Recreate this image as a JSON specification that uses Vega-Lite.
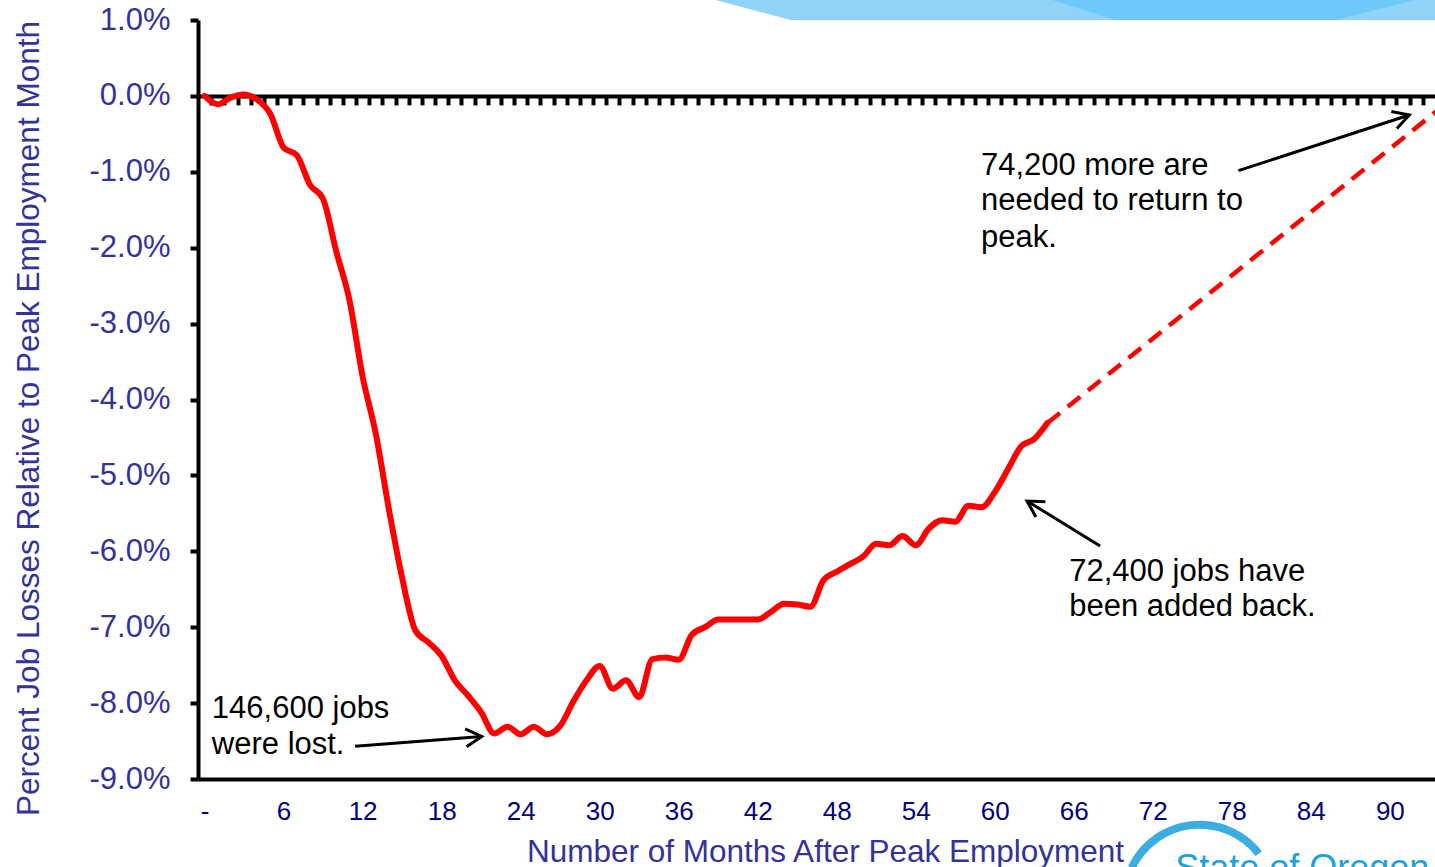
{
  "$schema": "https://vega.github.io/schema/vega-lite/v6.json",
  "autosize": {"type": "none"},
  "width": 1237,
  "height": 759,
  "padding": {"left": 198, "top": 20, "right": 0, "bottom": 88},
  "background": "white",
  "config": {
    "view": {"stroke": null},
    "font": "Liberation Sans",
    "text": {"font": "Liberation Sans"}
  },
  "datasets": {
    "jobs": [
      {"month": 0, "pct": 0.0}, {"month": 1, "pct": -0.11}, {"month": 2, "pct": -0.02}, {"month": 3, "pct": 0.02},
      {"month": 4, "pct": -0.05}, {"month": 5, "pct": -0.24}, {"month": 6, "pct": -0.68}, {"month": 7, "pct": -0.78},
      {"month": 8, "pct": -1.17}, {"month": 9, "pct": -1.36}, {"month": 10, "pct": -2.05}, {"month": 11, "pct": -2.69},
      {"month": 12, "pct": -3.7}, {"month": 13, "pct": -4.45}, {"month": 14, "pct": -5.45}, {"month": 15, "pct": -6.35},
      {"month": 16, "pct": -7.04}, {"month": 17, "pct": -7.2}, {"month": 18, "pct": -7.38}, {"month": 19, "pct": -7.7},
      {"month": 20, "pct": -7.9}, {"month": 21, "pct": -8.12}, {"month": 22, "pct": -8.4}, {"month": 23, "pct": -8.31},
      {"month": 24, "pct": -8.41}, {"month": 25, "pct": -8.31}, {"month": 26, "pct": -8.41}, {"month": 27, "pct": -8.3},
      {"month": 28, "pct": -7.98}, {"month": 29, "pct": -7.7}, {"month": 30, "pct": -7.51}, {"month": 31, "pct": -7.81},
      {"month": 32, "pct": -7.7}, {"month": 33, "pct": -7.92}, {"month": 34, "pct": -7.42}, {"month": 35, "pct": -7.4},
      {"month": 36, "pct": -7.43}, {"month": 37, "pct": -7.1}, {"month": 38, "pct": -7.0}, {"month": 39, "pct": -6.9},
      {"month": 40, "pct": -6.9}, {"month": 41, "pct": -6.9}, {"month": 42, "pct": -6.9}, {"month": 43, "pct": -6.8},
      {"month": 44, "pct": -6.69}, {"month": 45, "pct": -6.7}, {"month": 46, "pct": -6.73}, {"month": 47, "pct": -6.38},
      {"month": 48, "pct": -6.27}, {"month": 49, "pct": -6.17}, {"month": 50, "pct": -6.07}, {"month": 51, "pct": -5.9},
      {"month": 52, "pct": -5.92}, {"month": 53, "pct": -5.8}, {"month": 54, "pct": -5.92}, {"month": 55, "pct": -5.7},
      {"month": 56, "pct": -5.59}, {"month": 57, "pct": -5.61}, {"month": 58, "pct": -5.4}, {"month": 59, "pct": -5.42},
      {"month": 60, "pct": -5.22}, {"month": 61, "pct": -4.92}, {"month": 62, "pct": -4.62}, {"month": 63, "pct": -4.52},
      {"month": 64, "pct": -4.31}
    ],
    "projection": [
      {"month": 64, "pct": -4.31},
      {"month": 95, "pct": 0.0}
    ],
    "notes": [
      {"line": "146,600 jobs", "nx": 0.55, "ny": -8.08},
      {"line": "were lost.", "nx": 0.55, "ny": -8.55},
      {"line": "74,200 more are", "nx": 58.95, "ny": -0.92},
      {"line": "needed to return to", "nx": 58.95, "ny": -1.385},
      {"line": "peak.", "nx": 58.95, "ny": -1.87},
      {"line": "72,400 jobs have", "nx": 65.65, "ny": -6.27},
      {"line": "been added back.", "nx": 65.65, "ny": -6.73}
    ],
    "arrows": [
      {"id": "lost", "ax": 11.43, "ay": -8.57, "bx": 21.05, "by": -8.44},
      {"id": "needed", "ax": 78.5, "ay": -0.985, "bx": 91.48, "by": -0.252},
      {"id": "added", "ax": 68.0, "ay": -5.93, "bx": 62.45, "by": -5.337}
    ],
    "bannerLight": [
      {"bx": 38.67, "top": 1.27, "bottom": 1.27},
      {"bx": 44.5, "top": 1.27, "bottom": 1.0},
      {"bx": 93.43, "top": 1.27, "bottom": 1.0}
    ],
    "bannerDark": [
      {"bx": 64.25, "top": 1.27, "bottom": 1.27},
      {"bx": 69.2, "top": 1.27, "bottom": 1.0},
      {"bx": 85.85, "top": 1.27, "bottom": 1.0},
      {"bx": 92.05, "top": 1.27, "bottom": 1.27}
    ],
    "logo": [
      {"label": "State of Oregon", "lx": 73.7, "ly": -9.96}
    ]
  },
  "resolve": {"axis": {"x": "independent"}},
  "layer": [
    {
      "data": {"name": "bannerLight"},
      "mark": {"type": "area", "color": "#8fd3f8", "clip": false},
      "encoding": {
        "x": {"field": "bx", "type": "quantitative", "axis": null, "scale": {"domain": [-0.5, 93.43], "nice": false, "zero": false}},
        "y": {"field": "top", "type": "quantitative", "scale": {"domain": [-9, 1], "nice": false, "zero": false}},
        "y2": {"field": "bottom"}
      }
    },
    {
      "data": {"name": "bannerDark"},
      "mark": {"type": "area", "color": "#6cc8f8", "clip": false},
      "encoding": {
        "x": {"field": "bx", "type": "quantitative", "axis": null},
        "y": {"field": "top", "type": "quantitative"},
        "y2": {"field": "bottom"}
      }
    },
    {
      "mark": {"type": "rule", "color": "black", "strokeWidth": 4},
      "encoding": {"y": {"datum": 1}}
    },
    {
      "data": {"name": "jobs"},
      "mark": {"type": "line", "color": "#ff0000", "strokeWidth": 6, "interpolate": "monotone", "strokeCap": "round"},
      "encoding": {
        "x": {
          "field": "month", "type": "quantitative",
          "axis": {
            "orient": "bottom",
            "values": [0, 6, 12, 18, 24, 30, 36, 42, 48, 54, 60, 66, 72, 78, 84, 90],
            "labelExpr": "datum.value === 0 ? '-' : format(datum.value, 'd')",
            "labelFontSize": 26, "labelColor": "#000080", "labelPadding": 19, "labelFlush": false,
            "labelFont": "Liberation Sans",
            "ticks": false, "tickSize": 0, "grid": false,
            "domainColor": "black", "domainWidth": 4,
            "title": "Number of Months After Peak Employment",
            "titleFont": "Liberation Sans", "titleFontSize": 31.5, "titleFontWeight": "normal", "titleColor": "#333399",
            "titleX": 627, "titleY": 73, "titleBaseline": "middle", "titleAlign": "center"
          }
        },
        "y": {
          "field": "pct", "type": "quantitative",
          "axis": {
            "orient": "left",
            "values": [-9, -8, -7, -6, -5, -4, -3, -2, -1, 0, 1],
            "labelExpr": "(datum.value < 0 ? '-' : '') + format(abs(datum.value), '.1f') + '%'",
            "labelFontSize": 31, "labelColor": "#333399", "labelPadding": 20, "labelFlush": false,
            "labelFont": "Liberation Sans",
            "tickColor": "black", "tickWidth": 4, "tickSize": 8, "grid": false,
            "domainColor": "black", "domainWidth": 4,
            "title": "Percent Job Losses Relative to Peak Employment Month",
            "titleFont": "Liberation Sans", "titleFontSize": 31.5, "titleFontWeight": "normal", "titleColor": "#333399",
            "titleX": -169, "titleY": 398, "titleAngle": 270, "titleBaseline": "middle", "titleAlign": "center"
          }
        }
      }
    },
    {
      "data": {"name": "projection"},
      "mark": {"type": "line", "color": "#ff0000", "strokeWidth": 4.5, "strokeDash": [16, 10], "clip": true},
      "encoding": {
        "x": {
          "field": "month", "type": "quantitative",
          "axis": {
            "orient": "top", "offset": -75.9,
            "values": [0.5, 1.5, 2.5, 3.5, 4.5, 5.5, 6.5, 7.5, 8.5, 9.5, 10.5, 11.5, 12.5, 13.5, 14.5, 15.5, 16.5, 17.5, 18.5, 19.5, 20.5, 21.5, 22.5, 23.5, 24.5, 25.5, 26.5, 27.5, 28.5, 29.5, 30.5, 31.5, 32.5, 33.5, 34.5, 35.5, 36.5, 37.5, 38.5, 39.5, 40.5, 41.5, 42.5, 43.5, 44.5, 45.5, 46.5, 47.5, 48.5, 49.5, 50.5, 51.5, 52.5, 53.5, 54.5, 55.5, 56.5, 57.5, 58.5, 59.5, 60.5, 61.5, 62.5, 63.5, 64.5, 65.5, 66.5, 67.5, 68.5, 69.5, 70.5, 71.5, 72.5, 73.5, 74.5, 75.5, 76.5, 77.5, 78.5, 79.5, 80.5, 81.5, 82.5, 83.5, 84.5, 85.5, 86.5, 87.5, 88.5, 89.5, 90.5, 91.5, 92.5],
            "labels": false, "title": null, "grid": false,
            "ticks": true, "tickSize": -9, "tickWidth": 4, "tickColor": "black",
            "domainColor": "black", "domainWidth": 4
          }
        },
        "y": {"field": "pct", "type": "quantitative"}
      }
    },
    {
      "data": {"name": "arrows"},
      "mark": {"type": "rule", "color": "black", "strokeWidth": 3},
      "encoding": {
        "x": {"field": "ax", "type": "quantitative", "axis": null},
        "y": {"field": "ay", "type": "quantitative"},
        "x2": {"field": "bx"},
        "y2": {"field": "by"}
      }
    },
    {
      "data": {"name": "arrows"},
      "transform": [{"filter": "datum.id === 'lost'"}],
      "mark": {"type": "point", "shape": "M-1.6,-0.9L0,0L-1.6,0.9", "filled": false, "stroke": "black", "strokeWidth": 3, "size": 400, "angle": -4.5, "opacity": 1},
      "encoding": {
        "x": {"field": "bx", "type": "quantitative", "axis": null},
        "y": {"field": "by", "type": "quantitative"}
      }
    },
    {
      "data": {"name": "arrows"},
      "transform": [{"filter": "datum.id === 'needed'"}],
      "mark": {"type": "point", "shape": "M-1.6,-0.9L0,0L-1.6,0.9", "filled": false, "stroke": "black", "strokeWidth": 3, "size": 400, "angle": -18, "opacity": 1},
      "encoding": {
        "x": {"field": "bx", "type": "quantitative", "axis": null},
        "y": {"field": "by", "type": "quantitative"}
      }
    },
    {
      "data": {"name": "arrows"},
      "transform": [{"filter": "datum.id === 'added'"}],
      "mark": {"type": "point", "shape": "M-1.6,-0.9L0,0L-1.6,0.9", "filled": false, "stroke": "black", "strokeWidth": 3, "size": 400, "angle": 211.6, "opacity": 1},
      "encoding": {
        "x": {"field": "bx", "type": "quantitative", "axis": null},
        "y": {"field": "by", "type": "quantitative"}
      }
    },
    {
      "data": {"name": "notes"},
      "mark": {"type": "text", "align": "left", "baseline": "middle", "fontSize": 31, "color": "black", "font": "Liberation Sans"},
      "encoding": {
        "x": {"field": "nx", "type": "quantitative", "axis": null},
        "y": {"field": "ny", "type": "quantitative"},
        "text": {"field": "line"}
      }
    },
    {
      "data": {"name": "logo"},
      "mark": {"type": "text", "align": "left", "baseline": "top", "fontSize": 36, "color": "#1aa3dc", "font": "Liberation Sans", "clip": false},
      "encoding": {
        "x": {"field": "lx", "type": "quantitative", "axis": null},
        "y": {"field": "ly", "type": "quantitative"},
        "text": {"field": "label"}
      }
    },
    {
      "data": {"name": "logo"},
      "mark": {"type": "arc", "innerRadius": 71, "outerRadius": 79, "theta": -1.13, "theta2": 0.91, "color": "#3aaee0", "clip": false},
      "encoding": {
        "x": {"datum": 75.55, "type": "quantitative", "axis": null},
        "y": {"datum": -10.59, "type": "quantitative"}
      }
    }
  ]
}
